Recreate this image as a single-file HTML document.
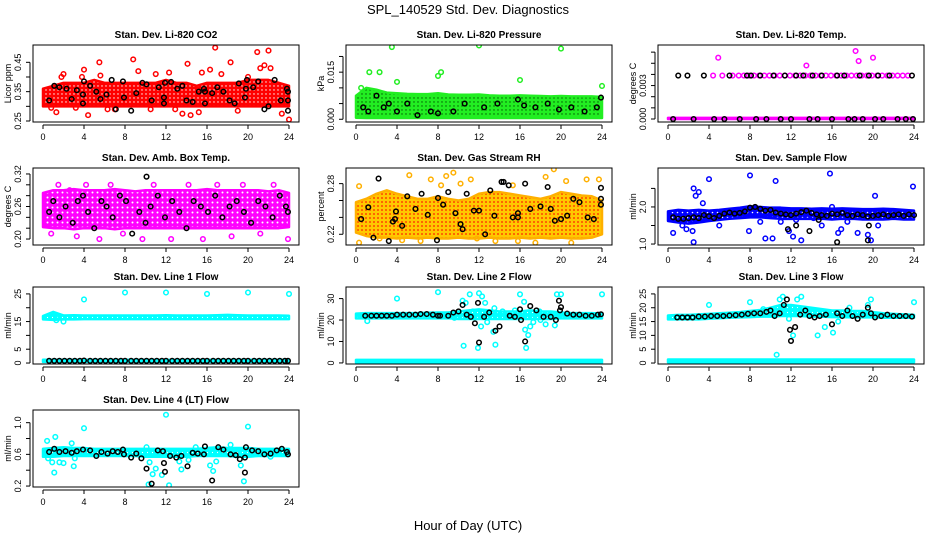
<!DOCTYPE html>
<html><head><meta charset="utf-8"><style>
body{margin:0;background:#fff}
svg{display:block;font-family:"Liberation Sans",sans-serif}
</style></head><body>
<svg id="c" width="936" height="540" viewBox="0 0 936 540">
<defs>
<pattern id="p-red" width="4" height="4" patternUnits="userSpaceOnUse"><rect width="4" height="4" fill="#ff0000"/><circle cx="2" cy="2" r="0.7" fill="#fff"/></pattern>
<pattern id="p-green" width="4" height="4" patternUnits="userSpaceOnUse"><rect width="4" height="4" fill="#22ee22"/><circle cx="2" cy="2" r="0.7" fill="#005500"/></pattern>
<pattern id="p-magenta" width="5" height="5" patternUnits="userSpaceOnUse"><rect width="5" height="5" fill="#ff00ff"/><circle cx="2.5" cy="2.5" r="1" fill="#fff"/></pattern>
<pattern id="p-orange" width="4" height="4" patternUnits="userSpaceOnUse"><rect width="4" height="4" fill="#ffc800"/><circle cx="2" cy="2" r="0.9" fill="#ff2000"/></pattern>
<pattern id="p-blue" width="5" height="5" patternUnits="userSpaceOnUse"><rect width="5" height="5" fill="#0000ff"/><circle cx="2.5" cy="2.5" r="0.8" fill="#fff"/></pattern>
<pattern id="p-cyan" width="5" height="5" patternUnits="userSpaceOnUse"><rect width="5" height="5" fill="#00ffff"/><circle cx="2.5" cy="2.5" r="0.6" fill="#fff"/></pattern>
</defs>
<text x="468" y="14" font-size="13" text-anchor="middle">SPL_140529  Std. Dev. Diagnostics</text>
<text x="468" y="530" font-size="13" text-anchor="middle">Hour of Day (UTC)</text>
</svg>
<script>
const hoursBand=[0,1,2,3,4,5,6,7,8,9,10,11,12,13,14,15,16,17,18,19,20,21,22,23,24];
const xTicks=[0,4,8,12,16,20,24];
// CO2
const co2Lo=[0.30,0.30,0.30,0.30,0.30,0.30,0.30,0.30,0.30,0.30,0.30,0.30,0.30,0.30,0.30,0.30,0.30,0.30,0.30,0.30,0.30,0.30,0.30,0.30,0.30];
const co2Hi=[0.36,0.37,0.38,0.38,0.38,0.39,0.38,0.38,0.38,0.38,0.38,0.38,0.39,0.38,0.38,0.37,0.38,0.38,0.38,0.38,0.39,0.39,0.39,0.38,0.37];
const co2RedX=[0.8,1.3,1.8,2.0,3.2,4.0,4.4,5.5,5.6,6.3,7.0,8.8,9.3,10.5,11.0,12.3,13.6,14.1,14.4,15.2,15.5,16.3,16.8,17.4,18.3,19.0,20.0,20.9,21.2,21.6,22.0,22.2,23.3,24.0,3.8,12.9];
const co2RedY=[0.295,0.28,0.40,0.41,0.295,0.425,0.27,0.45,0.405,0.29,0.29,0.46,0.42,0.29,0.41,0.415,0.275,0.445,0.27,0.28,0.415,0.425,0.50,0.41,0.45,0.285,0.40,0.485,0.43,0.44,0.49,0.43,0.275,0.255,0.40,0.29];
const co2BlkX=[0.6,1.1,1.6,2.3,2.8,3.3,3.9,4.0,3.9,4.6,5.2,5.6,6.2,6.7,7.1,7.8,7.9,8.6,9.1,9.7,10.1,10.6,11.3,11.8,11.9,11.8,12.5,13.1,13.6,14.0,14.6,15.2,15.7,15.8,15.8,16.5,17.0,17.6,18.2,18.7,19.1,19.7,19.8,19.9,20.5,21.0,21.6,22.0,22.6,23.2,23.8,23.9,23.9,23.9];
const co2BlkY=[0.32,0.37,0.365,0.36,0.325,0.355,0.34,0.385,0.31,0.37,0.35,0.325,0.34,0.39,0.29,0.385,0.33,0.285,0.345,0.38,0.375,0.32,0.365,0.33,0.38,0.31,0.383,0.36,0.37,0.32,0.315,0.35,0.36,0.35,0.31,0.345,0.365,0.35,0.32,0.31,0.378,0.33,0.36,0.39,0.365,0.385,0.29,0.30,0.39,0.32,0.36,0.35,0.32,0.285];
// Pressure
const prsLo=[0.0005,0.0004,0.0004,0.0004,0.0004,0.0004,0.0004,0.0004,0.0004,0.0004,0.0004,0.0004,0.0004,0.0004,0.0004,0.0004,0.0004,0.0004,0.0004,0.0004,0.0004,0.0004,0.0004,0.0004,0.0004];
const prsHi=[0.0075,0.0100,0.0094,0.0085,0.0083,0.0081,0.0080,0.0080,0.0083,0.0079,0.0078,0.0078,0.0079,0.0076,0.0075,0.0075,0.0076,0.0075,0.0074,0.0073,0.0074,0.0073,0.0073,0.0073,0.0071];
const prsGrnX=[0.5,1.3,2.3,3.5,8.0,8.3,12.0,16.0,20.0,24.0,4.0];
const prsGrnY=[0.010,0.015,0.015,0.023,0.0138,0.015,0.0235,0.0125,0.0225,0.0106,0.0119];
const prsBlkX=[0.7,1.2,2.0,2.7,3.2,4.0,5.0,6.0,7.3,8.0,9.5,10.6,12.5,13.8,15.8,16.4,17.5,18.7,19.8,21.0,22.3,23.5,23.9];
const prsBlkY=[0.0038,0.0025,0.0075,0.0038,0.005,0.0025,0.005,0.0013,0.0025,0.0019,0.0025,0.005,0.0038,0.005,0.0063,0.0044,0.0038,0.005,0.0031,0.0038,0.0025,0.0038,0.0069];
// Temp
const tmpLo=[0,0,0,0,0,0,0,0,0,0,0,0,0,0,0,0,0,0,0,0,0,0,0,0,0];
const tmpHi=[0.0001,0.0001,0.0001,0.0001,0.0001,0.0001,0.0001,0.0001,0.0001,0.0001,0.0001,0.0001,0.0001,0.0001,0.0001,0.0001,0.0001,0.0001,0.0001,0.0001,0.0001,0.0001,0.0001,0.0001,0.0001];
const tmpMagX=[4.4,5.3,6.3,6.9,7.4,7.9,8.4,8.9,9.4,9.9,10.4,10.9,11.4,11.9,12.4,12.9,13.4,13.9,14.4,14.9,15.4,15.9,16.4,16.9,17.4,17.9,18.4,18.9,19.4,19.9,20.4,20.9,21.4,21.9,22.4,22.9,23.4,4.9,13.5,18.3,18.6,20.0];
const tmpMagY=[0.0039,0.0039,0.0039,0.0039,0.0039,0.0039,0.0039,0.0039,0.0039,0.0039,0.0039,0.0039,0.0039,0.0039,0.0039,0.0039,0.0039,0.0039,0.0039,0.0039,0.0039,0.0039,0.0039,0.0039,0.0039,0.0039,0.0039,0.0039,0.0039,0.0039,0.0039,0.0039,0.0039,0.0039,0.0039,0.0039,0.0039,0.0055,0.0048,0.0061,0.0052,0.0055];
const tmpBlkX=[1.0,1.9,3.5,6.0,7.7,8.1,9.0,10.3,11.4,12.5,13.2,14.1,15.0,16.5,17.2,18.7,19.6,20.5,21.6,23.8,0.5,2.5,4.5,5.5,7.0,8.6,9.6,11.0,12.0,13.8,14.6,16.0,17.6,18.2,19.0,20.2,21.0,22.4,23.2,23.9];
const tmpBlkY=[0.0039,0.0039,0.0039,0.0039,0.0039,0.0039,0.0039,0.0039,0.0039,0.0039,0.0039,0.0039,0.0039,0.0039,0.0039,0.0039,0.0039,0.0039,0.0039,0.0039,0,0,0,0,0,0,0,0,0,0,0,0,0,0,0,0,0,0,0,0];
// Amb box
const ambLo=[0.222,0.22,0.22,0.218,0.22,0.22,0.22,0.218,0.22,0.22,0.22,0.22,0.22,0.22,0.22,0.22,0.22,0.22,0.22,0.22,0.22,0.22,0.22,0.22,0.222];
const ambHi=[0.285,0.29,0.29,0.292,0.29,0.29,0.29,0.292,0.29,0.288,0.29,0.29,0.29,0.29,0.29,0.29,0.292,0.29,0.29,0.29,0.29,0.29,0.288,0.29,0.285];
const ambMagX=[0.8,1.5,2.6,4.2,5.5,6.6,9.7,10.8,12.5,14.2,15.6,17.0,18.4,19.5,21.2,22.5,23.9,7.8,3.3];
const ambMagY=[0.21,0.30,0.29,0.30,0.20,0.30,0.20,0.30,0.20,0.30,0.20,0.30,0.205,0.30,0.21,0.30,0.20,0.21,0.205];
const ambBlkX=[0.6,1.0,1.6,2.2,2.9,3.4,3.9,4.4,5.0,5.7,6.2,6.8,7.5,8.1,8.7,9.4,10.0,10.5,11.2,11.9,12.6,13.3,14.0,14.7,15.4,16.1,16.8,17.5,18.2,18.9,19.6,20.3,21.0,21.7,22.4,23.1,23.7,23.9,10.1];
const ambBlkY=[0.25,0.27,0.24,0.26,0.23,0.27,0.28,0.25,0.22,0.27,0.26,0.24,0.28,0.27,0.21,0.25,0.23,0.26,0.28,0.24,0.27,0.25,0.22,0.27,0.26,0.25,0.28,0.24,0.26,0.27,0.25,0.23,0.27,0.26,0.24,0.28,0.26,0.25,0.315];
// RH
const rhLo=[0.222,0.218,0.216,0.216,0.215,0.216,0.215,0.216,0.215,0.215,0.216,0.215,0.215,0.216,0.215,0.215,0.216,0.215,0.216,0.215,0.216,0.215,0.215,0.216,0.22];
const rhHi=[0.258,0.262,0.268,0.272,0.268,0.265,0.262,0.262,0.265,0.262,0.26,0.262,0.268,0.27,0.27,0.268,0.266,0.264,0.262,0.265,0.27,0.268,0.266,0.265,0.26];
const rhOrX=[0.3,0.3,5.2,7.3,8.3,8.8,9.5,10.2,11.2,15.3,17.5,19.3,20.5,22.5,23.7,2.3,4.5,6.3,11.8,13.6,15.8,18.5,21.0];
const rhOrY=[0.277,0.21,0.29,0.285,0.278,0.289,0.293,0.28,0.285,0.278,0.21,0.297,0.283,0.285,0.285,0.215,0.213,0.212,0.215,0.212,0.212,0.288,0.21];
const rhBlkX=[0.5,1.2,1.7,2.2,3.2,3.6,3.8,3.9,4.5,5.0,5.8,6.4,7.0,7.9,8.0,8.5,9.0,9.7,10.2,10.4,10.8,11.5,12.0,12.6,13.1,13.5,14.2,14.4,14.9,15.3,15.8,15.8,16.5,17.0,18.0,18.7,19.0,19.4,20.0,20.6,21.2,21.8,22.6,23.2,23.9,23.9,23.9];
const rhBlkY=[0.238,0.252,0.216,0.286,0.212,0.235,0.238,0.247,0.23,0.265,0.25,0.268,0.243,0.213,0.263,0.255,0.27,0.245,0.232,0.226,0.268,0.248,0.248,0.22,0.272,0.242,0.282,0.282,0.278,0.24,0.24,0.245,0.28,0.25,0.253,0.276,0.25,0.236,0.238,0.242,0.262,0.258,0.24,0.238,0.275,0.262,0.255];
// Sample flow
const sfLo=[1.62,1.58,1.55,1.58,1.62,1.65,1.68,1.7,1.72,1.72,1.7,1.68,1.68,1.68,1.68,1.68,1.66,1.68,1.68,1.66,1.66,1.66,1.68,1.66,1.66];
const sfHi=[1.88,1.92,1.9,1.92,1.9,1.92,1.95,1.98,2.02,2.0,1.98,1.98,1.96,1.96,1.95,1.96,1.95,1.96,1.95,1.94,1.94,1.95,1.94,1.92,1.9];
const sfBluX=[0.5,1.4,1.8,2.4,2.5,2.7,3.0,3.4,2.5,4.0,5.0,8.0,9.0,9.5,10.2,10.5,11.0,11.8,12.2,12.5,13.0,14.2,15.0,15.8,16.0,16.6,16.9,17.5,18.5,19.5,19.8,20.2,23.9,20.5,7.9];
const sfBluY=[1.3,1.5,1.4,1.35,2.5,2.3,2.4,2.1,1.05,2.75,1.5,2.85,1.6,1.15,1.15,2.7,1.6,1.35,1.2,1.65,1.1,1.7,1.5,2.9,2.0,1.3,1.4,1.6,1.3,1.25,1.1,2.3,2.55,1.5,1.35];
const sfBlkX=[0.5,1.0,1.5,2.0,2.5,3.0,3.5,4.0,4.5,5.0,5.5,6.0,6.5,7.0,7.5,8.0,8.5,9.0,9.5,10.0,10.5,11.0,11.5,12.0,12.5,13.0,13.5,14.0,14.5,15.0,15.5,16.0,16.5,17.0,17.5,18.0,18.5,19.0,19.5,20.0,20.5,21.0,21.5,22.0,22.5,23.0,23.5,24.0,11.7,12.5,13.8,16.5,19.5,14.7,19.6];
const sfBlkY=[1.72,1.68,1.68,1.7,1.72,1.7,1.78,1.75,1.7,1.76,1.82,1.85,1.82,1.84,1.88,1.98,2.0,1.95,1.9,1.92,1.85,1.82,1.8,1.78,1.82,1.86,1.9,1.84,1.8,1.78,1.76,1.82,1.8,1.84,1.78,1.76,1.8,1.78,1.74,1.76,1.78,1.8,1.76,1.78,1.8,1.76,1.8,1.78,1.4,1.5,1.35,1.05,1.1,1.65,1.5];
// Line 1
const l1Lo=[15.8,15.6,15.8,15.8,15.9,15.9,15.9,15.9,15.9,15.9,15.9,15.9,15.9,15.9,15.9,15.9,15.9,15.9,15.9,15.9,15.9,15.9,15.9,15.9,15.9];
const l1Hi=[17.0,18.5,17.2,17.3,17.2,17.2,17.2,17.2,17.2,17.2,17.2,17.2,17.3,17.2,17.2,17.2,17.2,17.3,17.4,17.3,17.2,17.2,17.2,17.2,17.1];
const l1ZLo=[0.4,0.4,0.4,0.4,0.4,0.4,0.4,0.4,0.4,0.4,0.4,0.4,0.4,0.4,0.4,0.4,0.4,0.4,0.4,0.4,0.4,0.4,0.4,0.4,0.4];
const l1ZHi=[1.2,1.2,1.2,1.2,1.2,1.2,1.2,1.2,1.2,1.2,1.2,1.2,1.2,1.2,1.2,1.2,1.2,1.2,1.2,1.2,1.2,1.2,1.2,1.2,1.2];
const l1CyX=[4,8,12,16,20,24,2,1.3];
const l1CyY=[23,25.5,25.5,25,25.5,25,15,15.5];
const l1BlkX=[0.6,1.1,1.6,2.1,2.6,3.1,3.6,4.0,4.6,5.1,5.6,6.1,6.6,7.1,7.6,8.0,8.6,9.1,9.6,10.1,10.6,11.1,11.6,12.0,12.6,13.1,13.6,14.1,14.6,15.1,15.6,16.0,16.6,17.1,17.6,18.1,18.6,19.1,19.6,20.0,20.6,21.1,21.6,22.1,22.6,23.1,23.6,23.9];
const l1BlkY=[0.8,0.8,0.8,0.8,0.8,0.8,0.8,0.9,0.8,0.8,0.8,0.8,0.8,0.8,0.8,0.8,0.8,0.8,0.8,0.8,0.8,0.8,0.8,0.8,0.8,0.8,0.8,0.8,0.8,0.8,0.8,0.8,0.8,0.8,0.8,0.8,0.8,0.8,0.8,0.8,0.8,0.8,0.8,0.8,0.8,0.8,0.8,0.8];
// Line 2
const l2Lo=[20.8,20.8,20.8,20.8,20.8,20.8,20.8,20.8,20.8,20.8,20.5,20.5,20.5,20.5,20.5,20.5,20.5,20.5,20.5,20.5,20.8,20.8,20.8,20.8,20.8];
const l2Hi=[23.0,23.2,23.2,23.2,23.2,23.2,23.2,23.4,23.5,23.5,24,24.5,25,24.5,24,24,24,24.5,24,24,23.5,23.2,23.2,23.2,23.0];
const l2ZLo=[0.2,0.2,0.2,0.2,0.2,0.2,0.2,0.2,0.2,0.2,0.2,0.2,0.2,0.2,0.2,0.2,0.2,0.2,0.2,0.2,0.2,0.2,0.2,0.2,0.2];
const l2ZHi=[1.4,1.4,1.4,1.4,1.4,1.4,1.4,1.4,1.4,1.4,1.4,1.4,1.4,1.4,1.4,1.4,1.4,1.4,1.4,1.4,1.4,1.4,1.4,1.4,1.4];
const l2CyX=[4,8,10.5,10.4,10.7,11.1,11.9,12.0,12.3,12.6,13.5,13.6,13.4,12.2,14.3,15.5,16.0,16.5,16.6,16.8,17.0,16.4,17.3,18.5,19.4,19.6,20.0,19.2,18.0,24,1.1,12.8,11.4,9.6,17.9];
const l2CyY=[30,33,8,29,28,32,7,32.5,31,28,25.5,8.5,14.5,17,24,24.5,32,15.5,7,13,17,28.5,19,18,17.5,32,32,23,20,32,19.5,19,24,21,24];
const l2BlkX=[0.9,1.5,2.0,2.5,3.0,3.5,4.0,4.6,5.2,5.8,6.3,6.9,7.5,8.0,8.2,9.0,9.5,10.0,10.4,10.8,11.2,11.6,11.9,12.0,12.5,13.0,13.6,14.0,15.0,15.5,16.0,16.1,16.5,17.0,17.6,18.3,19.0,19.5,19.8,19.9,20.0,20.6,21.2,21.8,22.4,23.0,23.6,23.9];
const l2BlkY=[22,22,22,22,22,22,22.5,22.5,22.5,22.5,22.8,22.8,22.5,22,22,22,23.5,24,27,22.5,21.5,18.5,28,9.5,21.5,23.5,15,17,22,21.5,25,20,10,26.5,24.5,21.5,21.5,20,29,24.5,26,23,22.5,22.5,22,22,22.5,22.7];
// Line 3
const l3Lo=[15.8,15.8,15.8,15.8,16.0,16.2,16.4,16.5,16.6,16.8,16.8,17.0,17.0,17.0,16.8,16.8,16.6,16.6,16.5,16.5,16.5,16.4,16.4,16.4,16.4];
const l3Hi=[17.2,17.4,17.4,17.6,17.8,18.0,18.2,18.4,18.8,19.2,20.0,21.0,21.0,20.5,20.0,19.5,19.0,19.0,18.8,18.8,18.4,18.0,17.8,17.6,17.4];
const l3ZLo=[0.3,0.3,0.3,0.3,0.3,0.3,0.3,0.3,0.3,0.3,0.3,0.3,0.3,0.3,0.3,0.3,0.3,0.3,0.3,0.3,0.3,0.3,0.3,0.3,0.3];
const l3ZHi=[1.3,1.3,1.3,1.3,1.3,1.3,1.3,1.3,1.3,1.3,1.3,1.3,1.3,1.3,1.3,1.3,1.3,1.3,1.3,1.3,1.3,1.3,1.3,1.3,1.3];
const l3CyX=[4,8,10.6,10.9,11.2,12.2,12.6,13.0,14.6,15.3,16.1,16.6,19.8,19.5,24,11.8,9.3,17.7];
const l3CyY=[21,22,3,23,24,10,23,24,10,13,11,15,23,21,22,16,19.5,20];
const l3BlkX=[0.9,1.4,1.9,2.4,3.0,3.6,4.2,4.8,5.4,6.0,6.6,7.2,7.8,8.4,9.0,9.6,10.0,10.4,10.9,11.3,11.6,11.9,12.0,12.4,12.9,13.4,13.8,14.3,14.8,15.4,16.0,16.5,17.0,17.5,18.0,18.5,19.0,19.5,19.8,20.2,20.8,21.4,22.0,22.6,23.2,23.8];
const l3BlkY=[16.5,16.5,16.5,16.5,16.8,16.8,17,17,17,17.2,17.3,17.5,17.8,18,18,18.5,19,17,18,21,23,12,8,13,17.5,19,17,16.5,17,17.5,14,18,17,19,17,16,17.5,20,18,16.5,17,17.5,17,17,17,16.8];
// Line 4
const l4Lo=[0.57,0.57,0.58,0.58,0.58,0.58,0.58,0.58,0.58,0.58,0.57,0.57,0.57,0.57,0.57,0.58,0.58,0.58,0.58,0.57,0.57,0.58,0.58,0.58,0.58];
const l4Hi=[0.67,0.68,0.69,0.68,0.68,0.67,0.67,0.67,0.67,0.67,0.67,0.67,0.67,0.67,0.67,0.67,0.68,0.69,0.68,0.68,0.68,0.67,0.67,0.67,0.67];
const l4CyX=[0.4,1.2,1.1,0.9,1.6,2.8,3.0,4.0,3.1,10.1,10.4,10.3,10.7,11.0,11.6,12.0,12.3,13.3,13.5,14.2,14.9,16.3,16.6,16.9,18.3,19.3,19.6,20.0,22.2,2.0,0.5];
const l4CyY=[0.77,0.82,0.37,0.5,0.5,0.74,0.45,0.93,0.55,0.69,0.5,0.22,0.35,0.42,0.34,1.1,0.21,0.51,0.41,0.53,0.69,0.46,0.39,0.51,0.72,0.46,0.26,0.95,0.57,0.49,0.55];
const l4BlkX=[0.6,1.1,1.6,2.2,2.8,3.3,3.9,4.6,5.2,5.7,6.3,6.8,7.3,7.8,7.9,8.6,9.1,9.6,10.1,10.6,11.2,11.7,11.8,11.9,12.4,13.0,13.5,14.1,14.6,15.1,15.7,15.8,16.5,17.1,17.6,18.3,18.8,19.2,19.7,19.8,19.7,20.4,21.0,21.6,22.2,22.8,23.3,23.8,23.9];
const l4BlkY=[0.63,0.67,0.63,0.64,0.62,0.64,0.66,0.65,0.58,0.63,0.61,0.64,0.63,0.66,0.6,0.56,0.61,0.55,0.42,0.23,0.65,0.64,0.49,0.38,0.58,0.56,0.58,0.45,0.62,0.61,0.6,0.7,0.27,0.69,0.66,0.6,0.59,0.54,0.56,0.69,0.37,0.65,0.64,0.6,0.61,0.65,0.67,0.63,0.6];

const svg=document.getElementById('c');
const NS='http://www.w3.org/2000/svg';
function mk(tag,attrs,parent){const e=document.createElementNS(NS,tag);for(const k in attrs)e.setAttribute(k,attrs[k]);(parent||svg).appendChild(e);return e;}
const colX=[33,346,658], rowY=[45,168,287,410], BW=266, BH=77;
const COL={red:'#ff0000',green:'#22ee22',magenta:'#ff00ff',orange:'#ffb000',blue:'#0000ff',cyan:'#00ffff'};
const panels=[
 {name:'co2',title:'Stan. Dev. Li-820 CO2',yl:'Licor ppm',c:0,r:0,d:[0.2466,0.509],ticks:[0.25,0.30,0.35,0.40,0.45],labels:[0.25,0.35,0.45],dec:2,col:'red',bands:[[co2Lo,co2Hi]],cx:co2RedX,cy:co2RedY,bx:co2BlkX,by:co2BlkY},
 {name:'pressure',title:'Stan. Dev. Li-820 Pressure',yl:'kPa',c:1,r:0,d:[-0.00087,0.02365],ticks:[0,0.005,0.010,0.015,0.020],labels:[0,0.015],dec:3,col:'green',bands:[[prsLo,prsHi]],cx:prsGrnX,cy:prsGrnY,bx:prsBlkX,by:prsBlkY},
 {name:'temp',title:'Stan. Dev. Li-820 Temp.',yl:'degrees C',c:2,r:0,d:[-0.00027,0.00664],ticks:[0,0.001,0.002,0.003,0.004,0.005,0.006],labels:[0,0.003],dec:3,col:'magenta',bands:[[tmpLo,tmpHi]],cx:tmpMagX,cy:tmpMagY,bx:tmpBlkX,by:tmpBlkY},
 {name:'amb-box',title:'Stan. Dev. Amb. Box Temp.',yl:'degrees C',c:0,r:1,d:[0.189,0.331],ticks:[0.20,0.22,0.24,0.26,0.28,0.30,0.32],labels:[0.20,0.26,0.32],dec:2,col:'magenta',bands:[[ambLo,ambHi]],cx:ambMagX,cy:ambMagY,bx:ambBlkX,by:ambBlkY},
 {name:'rh',title:'Stan. Dev. Gas Stream RH',yl:'percent',c:1,r:1,d:[0.2073,0.2985],ticks:[0.22,0.24,0.26,0.28],labels:[0.22,0.28],dec:2,col:'orange',bands:[[rhLo,rhHi]],cx:rhOrX,cy:rhOrY,bx:rhBlkX,by:rhBlkY},
 {name:'sample-flow',title:'Stan. Dev. Sample Flow',yl:'ml/min',c:2,r:1,d:[0.974,3.05],ticks:[1.0,1.5,2.0,2.5],labels:[1.0,2.0],dec:1,col:'blue',bands:[[sfLo,sfHi]],cx:sfBluX,cy:sfBluY,bx:sfBlkX,by:sfBlkY},
 {name:'line1',title:'Stan. Dev. Line 1 Flow',yl:'ml/min',c:0,r:2,d:[-0.35,27.5],ticks:[0,5,10,15,20,25],labels:[0,5,15,25],dec:0,col:'cyan',bands:[[l1Lo,l1Hi],[l1ZLo,l1ZHi]],cx:l1CyX,cy:l1CyY,bx:l1BlkX,by:l1BlkY},
 {name:'line2',title:'Stan. Dev. Line 2 Flow',yl:'ml/min',c:1,r:2,d:[-0.5,35.4],ticks:[0,10,20,30],labels:[0,10,20,30],dec:0,col:'cyan',bands:[[l2Lo,l2Hi],[l2ZLo,l2ZHi]],cx:l2CyX,cy:l2CyY,bx:l2BlkX,by:l2BlkY},
 {name:'line3',title:'Stan. Dev. Line 3 Flow',yl:'ml/min',c:2,r:2,d:[-0.35,27.5],ticks:[0,5,10,15,20,25],labels:[0,5,10,15,20,25],dec:0,col:'cyan',bands:[[l3Lo,l3Hi],[l3ZLo,l3ZHi]],cx:l3CyX,cy:l3CyY,bx:l3BlkX,by:l3BlkY},
 {name:'line4',title:'Stan. Dev. Line 4 (LT) Flow',yl:'ml/min',c:0,r:3,d:[0.188,1.16],ticks:[0.2,0.4,0.6,0.8,1.0],labels:[0.2,0.6,1.0],dec:1,col:'cyan',bands:[[l4Lo,l4Hi]],cx:l4CyX,cy:l4CyY,bx:l4BlkX,by:l4BlkY}
];
panels.forEach(p=>{
 const x0=colX[p.c], y0=rowY[p.r];
 const g=mk('g',{});
 
 
 const xs=h=>x0+10+h*(BW-20)/24;
 const ys=v=>y0+BH-(v-p.d[0])/(p.d[1]-p.d[0])*BH;
 const t=mk('text',{x:x0+BW/2,y:y0-7,'font-size':10,'font-weight':'bold','text-anchor':'middle'},g);
 t.textContent=p.title;
 
 
 const clipId='clip-'+p.name;
 const cp=mk('clipPath',{id:clipId},g); mk('rect',{x:x0,y:y0,width:BW,height:BH},cp);
 const pg=mk('g',{'clip-path':'url(#'+clipId+')'},g);
 p.bands.forEach(b=>{
  let pts=hoursBand.map((h,i)=>xs(h)+','+ys(b[1][i]));
  pts=pts.concat(hoursBand.map((h,i)=>xs(h)+','+ys(b[0][i])).reverse());
  const poly=mk('polygon',{points:pts.join(' '),fill:'url(#p-'+p.col+')',stroke:COL[p.col],'stroke-width':2.5,'stroke-linejoin':'round'},pg);
  
  
 });
 p.cx.forEach((h,i)=>{
  const c=mk('circle',{cx:xs(h),cy:ys(p.cy[i]),r:2.3,fill:'none',stroke:COL[p.col],'stroke-width':1.5},pg);
  
  
 });
 p.bx.forEach((h,i)=>{
  const c=mk('circle',{cx:xs(h),cy:ys(p.by[i]),r:2.3,fill:'none',stroke:'#000','stroke-width':1.5},pg);
  
  
 });
 const box=mk('rect',{x:x0,y:y0,width:BW,height:BH,fill:'none',stroke:'#000','stroke-width':1},g);
 
 
 const ay=y0+BH+3;
 mk('line',{x1:xs(0),x2:xs(24),y1:ay,y2:ay,stroke:'#000'},g);
 xTicks.forEach(h=>{
  mk('line',{x1:xs(h),x2:xs(h),y1:ay,y2:ay+4,stroke:'#000'},g);
  const tl=mk('text',{x:xs(h),y:ay+15,'font-size':9,'text-anchor':'middle'},g);
  tl.textContent=h;
  
  
 });
 const ax=x0-3;
 mk('line',{x1:ax,x2:ax,y1:ys(p.ticks[0]),y2:ys(p.ticks[p.ticks.length-1]),stroke:'#000'},g);
 p.ticks.forEach(v=>mk('line',{x1:ax-4,x2:ax,y1:ys(v),y2:ys(v),stroke:'#000'},g));
 p.labels.forEach(v=>{
  const yy=ys(v), xx=ax-9;
  const tl=mk('text',{x:xx,y:yy,'font-size':9,'text-anchor':'middle',transform:'rotate(-90 '+xx+' '+yy+')'},g);
  tl.textContent=v.toFixed(p.dec);
  
  
 });
 const yx=x0-22, yy=y0+BH/2;
 const yt=mk('text',{x:yx,y:yy,'font-size':9,'text-anchor':'middle',transform:'rotate(-90 '+yx+' '+yy+')'},g);
 yt.textContent=p.yl;
 
 
});
</script>
</body></html>
